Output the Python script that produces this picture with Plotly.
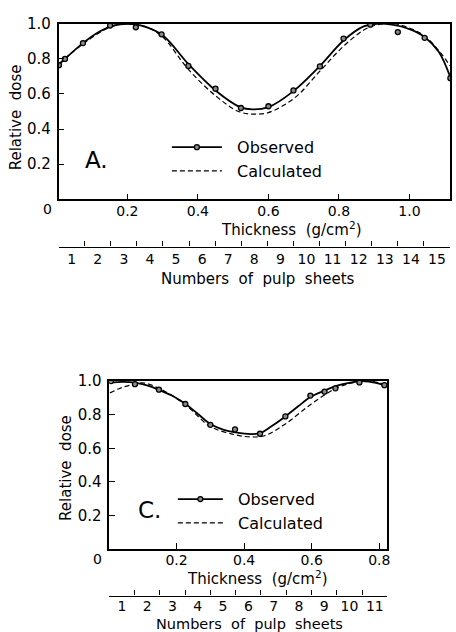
import plotly.graph_objects as go

# ---------------- data: panel A ----------------
a_obs_x = [0.006, 0.023, 0.074, 0.151, 0.224, 0.297, 0.373, 0.45, 0.522, 0.60, 0.671, 0.746, 0.813, 0.889, 0.967, 1.043, 1.116]
a_obs_y = [0.764, 0.80, 0.89, 0.99, 0.98, 0.94, 0.76, 0.63, 0.52, 0.53, 0.62, 0.757, 0.916, 0.995, 0.953, 0.92, 0.69]

a_fit_x = [0.005, 0.023, 0.074, 0.12, 0.16, 0.20, 0.24, 0.30, 0.373, 0.45, 0.52, 0.555, 0.60, 0.67, 0.746, 0.813, 0.87, 0.91, 0.95, 1.00, 1.043, 1.083, 1.115]
a_fit_y = [0.765, 0.80, 0.89, 0.955, 0.99, 1.0, 0.99, 0.935, 0.77, 0.62, 0.525, 0.512, 0.525, 0.615, 0.76, 0.905, 0.985, 1.0, 0.995, 0.97, 0.925, 0.84, 0.70]

a_calc_x = [0.005, 0.074, 0.15, 0.20, 0.25, 0.30, 0.373, 0.45, 0.515, 0.56, 0.60, 0.675, 0.746, 0.816, 0.882, 0.93, 0.97, 1.04, 1.09, 1.115]
a_calc_y = [0.77, 0.885, 0.98, 1.0, 0.985, 0.925, 0.74, 0.59, 0.50, 0.485, 0.494, 0.579, 0.73, 0.878, 0.977, 1.0, 0.995, 0.935, 0.83, 0.76]

a_sheet_labels = [str(i) for i in range(1, 16)]

# ---------------- data: panel C ----------------
c_obs_x = [0.006, 0.077, 0.148, 0.226, 0.30, 0.373, 0.447, 0.522, 0.596, 0.638, 0.67, 0.741, 0.815]
c_obs_y = [1.0, 0.982, 0.949, 0.864, 0.74, 0.713, 0.687, 0.79, 0.914, 0.937, 0.957, 0.992, 0.976]

c_fit_x = [0.003, 0.04, 0.08, 0.12, 0.151, 0.19, 0.226, 0.26, 0.30, 0.34, 0.375, 0.42, 0.447, 0.48, 0.522, 0.56, 0.596, 0.64, 0.67, 0.71, 0.75, 0.79, 0.822]
c_fit_y = [0.99, 0.995, 0.99, 0.97, 0.945, 0.91, 0.865, 0.81, 0.745, 0.71, 0.695, 0.685, 0.69, 0.73, 0.79, 0.85, 0.905, 0.945, 0.97, 0.99, 1.0, 0.99, 0.97]

c_calc_x = [0.003, 0.03, 0.06, 0.10, 0.15, 0.226, 0.30, 0.375, 0.42, 0.46, 0.522, 0.596, 0.67, 0.72, 0.76, 0.80, 0.822]
c_calc_y = [0.93, 0.955, 0.975, 0.99, 0.955, 0.86, 0.73, 0.68, 0.668, 0.675, 0.745, 0.86, 0.955, 0.99, 1.0, 0.99, 0.975]

c_sheet_labels = [str(i) for i in range(1, 12)]

thick_ticks_a = [0.2, 0.4, 0.6, 0.8, 1.0]
thick_ticks_c = [0.2, 0.4, 0.6, 0.8]
dose_ticks = [0.2, 0.4, 0.6, 0.8, 1.0]

W, H = 456, 632
FONT = "DejaVu Sans"
BLACK = "black"
NB = "\u00a0"

def px(x):
    return x / W

def py(y):
    return 1 - y / H

fig = go.Figure()

marker_style = dict(symbol="circle", size=5, color="#8a8a8a", line=dict(color=BLACK, width=1.3))
calc_line = dict(color=BLACK, width=1.2, dash="5px,3px", shape="spline", smoothing=1.0)
fit_line = dict(color=BLACK, width=1.8, shape="spline", smoothing=1.0)

# Panel A traces
fig.add_trace(go.Scatter(x=a_calc_x, y=a_calc_y, mode="lines", line=calc_line, xaxis="x", yaxis="y", showlegend=False))
fig.add_trace(go.Scatter(x=a_fit_x, y=a_fit_y, mode="lines", line=fit_line, xaxis="x", yaxis="y", showlegend=False))
fig.add_trace(go.Scatter(x=a_obs_x, y=a_obs_y, mode="markers", marker=marker_style, xaxis="x", yaxis="y", showlegend=False))
fig.add_trace(go.Scatter(x=[None], y=[None], mode="lines+markers", name=NB * 2 + "Observed", line=dict(color=BLACK, width=1.8),
                         marker=marker_style, xaxis="x", yaxis="y", legend="legend"))
fig.add_trace(go.Scatter(x=[None], y=[None], mode="lines", name=NB * 2 + "Calculated", line=dict(color=BLACK, width=1.2, dash="5px,3px"),
                         xaxis="x", yaxis="y", legend="legend"))

# Panel C traces
fig.add_trace(go.Scatter(x=c_calc_x, y=c_calc_y, mode="lines", line=calc_line, xaxis="x2", yaxis="y2", showlegend=False))
fig.add_trace(go.Scatter(x=c_fit_x, y=c_fit_y, mode="lines", line=fit_line, xaxis="x2", yaxis="y2", showlegend=False))
fig.add_trace(go.Scatter(x=c_obs_x, y=c_obs_y, mode="markers", marker=marker_style, xaxis="x2", yaxis="y2", showlegend=False))
fig.add_trace(go.Scatter(x=[None], y=[None], mode="lines+markers", name=NB * 2 + "Observed", line=dict(color=BLACK, width=1.8),
                         marker=marker_style, xaxis="x2", yaxis="y2", legend="legend2"))
fig.add_trace(go.Scatter(x=[None], y=[None], mode="lines", name=NB * 2 + "Calculated", line=dict(color=BLACK, width=1.2, dash="5px,3px"),
                         xaxis="x2", yaxis="y2", legend="legend2"))

# dummy traces for sheet axes (overlaying the thickness axes)
fig.add_trace(go.Scatter(x=[None], y=[None], xaxis="x3", yaxis="y", showlegend=False))
fig.add_trace(go.Scatter(x=[None], y=[None], xaxis="x4", yaxis="y2", showlegend=False))

tickfont = dict(family=FONT, size=14, color=BLACK)

def xax(domain, rng, tickvals, anchor, standoff):
    return dict(domain=domain, range=rng, tickvals=tickvals, ticktext=[f"{v:.1f}" for v in tickvals],
                ticks="inside", ticklen=6, tickwidth=1, tickcolor=BLACK, showline=True, linecolor=BLACK, linewidth=1.5,
                mirror=True, showgrid=False, zeroline=False, tickfont=tickfont, anchor=anchor, ticklabelstandoff=standoff)

def yax(domain, anchor):
    return dict(domain=domain, range=[0, 1.0], tickvals=dose_ticks, ticktext=[f"{v:.1f}" for v in dose_ticks],
                ticks="inside", ticklen=6, tickwidth=1, tickcolor=BLACK, showline=True, linecolor=BLACK, linewidth=1.5,
                mirror=True, showgrid=False, zeroline=False, tickfont=dict(family=FONT, size=15, color=BLACK),
                anchor=anchor, ticklabelstandoff=3)

def sheet_ax(over, n, pos, labels, standoff):
    return dict(overlaying=over, range=[0, n], anchor="free", position=pos, showline=True, linecolor=BLACK, linewidth=1.2,
                tickvals=[i + 0.5 for i in range(n)], ticktext=labels, ticks="inside", ticklen=0,
                minor=dict(tickvals=list(range(n + 1)), ticks="inside", ticklen=5, tickcolor=BLACK, tickwidth=1),
                showgrid=False, zeroline=False, tickfont=tickfont, ticklabelstandoff=standoff)

fig.update_layout(
    width=W, height=H, margin=dict(l=0, r=0, t=0, b=0),
    paper_bgcolor="white", plot_bgcolor="rgba(0,0,0,0)",
    xaxis=xax([px(59), px(453)], [0.005, 1.115], thick_ticks_a, "y", -2),
    yaxis=yax([py(193), py(15)], "x"),
    xaxis2=xax([px(110), px(390)], [0.001, 0.824], thick_ticks_c, "y2", -3),
    yaxis2=yax([py(548), py(377.5)], "x2"),
    xaxis3=sheet_ax("x", 15, py(241), a_sheet_labels, 0),
    xaxis4=sheet_ax("x2", 11, py(595), c_sheet_labels, -2),
    legend=dict(x=px(168), y=py(123), xanchor="left", yanchor="top", bgcolor="rgba(0,0,0,0)",
                font=dict(family=FONT, size=16, color=BLACK), itemwidth=50, tracegroupgap=0),
    legend2=dict(x=px(174), y=py(480), xanchor="left", yanchor="top", bgcolor="rgba(0,0,0,0)",
                 font=dict(family=FONT, size=16, color=BLACK), itemwidth=45, tracegroupgap=0),
    font=dict(family=FONT, color=BLACK),
)

ann = [
    dict(text="Relative" + NB + NB + "dose", x=px(17), y=py(110), textangle=-90, size=15),
    dict(text="Relative" + NB + NB + "dose", x=px(67), y=py(466), textangle=-90, size=15),
    dict(text="Thickness" + NB + NB + "(g/cm<sup>2</sup>)", x=px(293), y=py(223), textangle=0, size=15),
    dict(text="Thickness" + NB + NB + "(g/cm<sup>2</sup>)", x=px(259), y=py(577), textangle=0, size=15),
    dict(text=("Numbers" + NB + NB + "of" + NB + NB + "pulp" + NB + NB + "sheets"), x=px(260), y=py(274), textangle=0, size=15),
    dict(text=("Numbers" + NB + NB + "of" + NB + NB + "pulp" + NB + NB + "sheets"), x=px(251), y=py(624), textangle=0, size=14.5),
    dict(text="A.", x=px(97), y=py(153), textangle=0, size=23),
    dict(text="C.", x=px(150), y=py(508), textangle=0, size=23),
    dict(text="0", x=px(48), y=py(203), textangle=0, size=14),
    dict(text="0", x=px(98), y=py(558), textangle=0, size=14),
]
for a in ann:
    fig.add_annotation(text=a["text"], x=a["x"], y=a["y"], xref="paper", yref="paper", showarrow=False,
                       xanchor="center", yanchor="middle", textangle=a["textangle"],
                       font=dict(family=FONT, size=a["size"], color=BLACK))

fig.write_html("out.html")
